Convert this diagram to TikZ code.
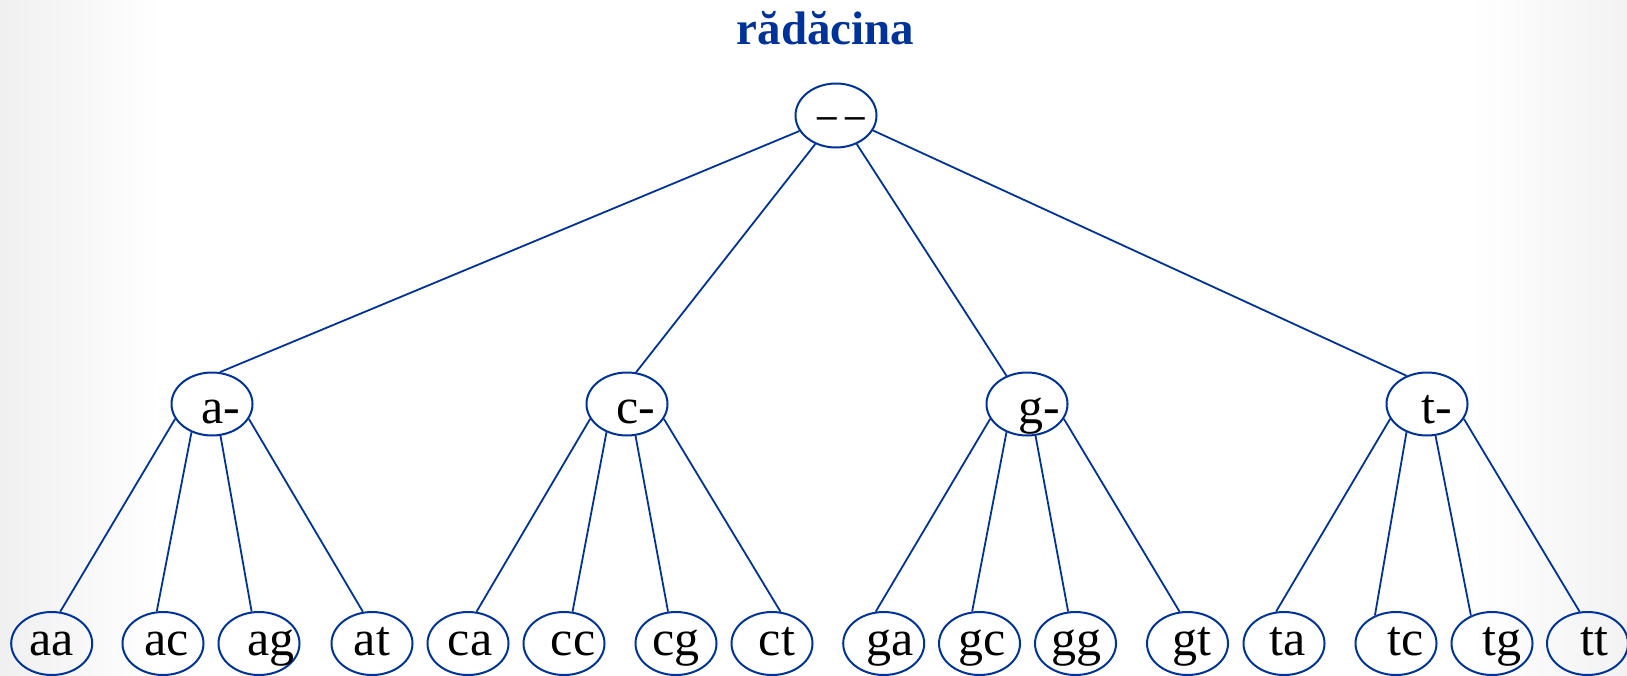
\documentclass[tikz,border=0pt]{standalone}
\usepackage{fontspec}
\usepackage{graphicx}
\setmainfont{Liberation Serif}
\usetikzlibrary{shapes.geometric}
\definecolor{treeblue}{RGB}{0,51,153}
\newcommand\shtxt[2]{\makebox[0pt]{\hspace*{#1}#2}}
\begin{document}
\begin{tikzpicture}[x=0.5pt,y=-0.5pt,
  every node/.style={font=\fontsize{25}{27}\selectfont},
  nd/.style={ellipse, draw=treeblue, line width=1pt, inner sep=0pt,
    minimum width=40.5pt, minimum height=31.5pt, text depth=0pt},
  leafnode/.style={nd, text height=11.5pt},
  midnode/.style={nd, text height=19pt},
  rootnode/.style={nd, text height=14.5pt, minimum height=32pt},
  link/.style={draw=treeblue, line width=0.9pt}]
\useasboundingbox (0,0) rectangle (1627,675);
\fill[white] (0,0) rectangle (1627,675);
\shade[left color=black!6, right color=white] (0,0) rectangle (160,675);
\shade[left color=white, right color=black!5] (1470,0) rectangle (1627,675);

\node[font=\fontsize{23.5}{26}\selectfont\bfseries, text=treeblue, anchor=base] (title) at (825.5,44) {rădăcina};

\node[rootnode] (root) at (836,115.5) {\shtxt{5pt}{\scalebox{0.78}[1]{\textendash}\hspace{4pt}\scalebox{0.78}[1]{\textendash}}};

\node[midnode] (a) at (212,404) {\shtxt{9pt}{a-}};
\node[midnode] (c) at (627,404) {\shtxt{8.5pt}{c-}};
\node[midnode] (g) at (1027,404) {\shtxt{12pt}{g-}};
\node[midnode] (t) at (1427,404) {\shtxt{10pt}{t-}};

\node[leafnode] (aa) at (51.7,643.5) {\shtxt{0pt}{aa}};
\node[leafnode] (ac) at (163,643.5) {\shtxt{3.7pt}{ac}};
\node[leafnode] (ag) at (259,643.5) {\shtxt{12pt}{ag}};
\node[leafnode] (at) at (372,643.5) {\shtxt{0pt}{at}};
\node[leafnode] (ca) at (468,643.5) {\shtxt{2pt}{ca}};
\node[leafnode] (cc) at (564,643.5) {\shtxt{9pt}{cc}};
\node[leafnode] (cg) at (676,643.5) {\shtxt{0pt}{cg}};
\node[leafnode] (ct) at (772,643.5) {\shtxt{5pt}{ct}};
\node[leafnode] (ga) at (883.7,643.5) {\shtxt{6pt}{ga}};
\node[leafnode] (gc) at (979.5,643.5) {\shtxt{3pt}{gc}};
\node[leafnode] (gg) at (1075.5,643.5) {\shtxt{1pt}{gg}};
\node[leafnode] (gt) at (1187.5,643.5) {\shtxt{4.5pt}{gt}};
\node[leafnode] (ta) at (1284,643.5) {\shtxt{4pt}{ta}};
\node[leafnode] (tc) at (1396,643.5) {\shtxt{10pt}{tc}};
\node[leafnode] (tg) at (1492,643.5) {\shtxt{10pt}{tg}};
\node[leafnode] (tt) at (1587.5,643.5) {\shtxt{7pt}{tt}};

\draw[link] (root.203) -- (a.76);
\draw[link] (root.234) -- (c.74);
\draw[link] (root.306) -- (g.126);
\draw[link] (root.338) -- (t.126);

\draw[link] (a.202) -- (aa.75);
\draw[link] (a.234) -- (ac.101);
\draw[link] (a.285) -- (ag.103);
\draw[link] (a.338) -- (at.106);

\draw[link] (c.202) -- (ca.75);
\draw[link] (c.234) -- (cc.75);
\draw[link] (c.285) -- (cg.104);
\draw[link] (c.338) -- (ct.75);

\draw[link] (g.202) -- (ga.104);
\draw[link] (g.234) -- (gc.103);
\draw[link] (g.285) -- (gg.103);
\draw[link] (g.338) -- (gt.104);

\draw[link] (t.202) -- (ta.104);
\draw[link] (t.234) -- (tc.127);
\draw[link] (t.285) -- (tg.127);
\draw[link] (t.338) -- (tt.104);
\end{tikzpicture}
\end{document}
